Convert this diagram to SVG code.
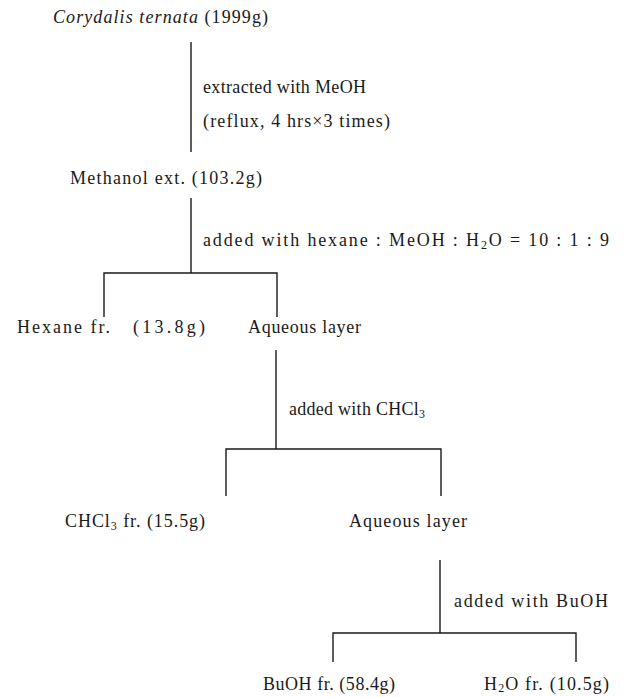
<svg xmlns="http://www.w3.org/2000/svg" width="626" height="697" viewBox="0 0 626 697">
<style>
text{font-family:"Liberation Serif","Times New Roman",serif;font-size:18px;fill:#1a1a1a}
.it{font-style:italic}
.sub{font-size:12px}
.ln{stroke:#1a1a1a;stroke-width:1.4;fill:none}
</style>
<rect width="626" height="697" fill="#fff"/>
<g id="n_start"><text x="53" y="23" textLength="215" lengthAdjust="spacing"><tspan class="it">Corydalis ternata</tspan> (1999g)</text></g>
<g id="e1_label"><text x="203" y="93" textLength="163" lengthAdjust="spacing">extracted with MeOH</text>
<text x="203" y="127" textLength="187" lengthAdjust="spacing">(reflux, 4 hrs×3 times)</text></g>
<g id="n_meoh"><text x="70" y="184" textLength="192" lengthAdjust="spacing">Methanol ext. (103.2g)</text></g>
<g id="e2_label"><text x="203" y="246" textLength="406" lengthAdjust="spacing">added with hexane : MeOH : H<tspan class="sub" dy="3">2</tspan><tspan dy="-3">O = 10 : 1 : 9</tspan></text></g>
<g id="n_hexane"><text x="17" y="333" textLength="93" lengthAdjust="spacing">Hexane fr.</text><text x="133" y="333" textLength="72" lengthAdjust="spacing">(13.8g)</text></g>
<g id="n_aq1"><text x="248" y="333" textLength="113" lengthAdjust="spacing">Aqueous layer</text></g>
<g id="e3_label"><text x="289" y="415" textLength="136" lengthAdjust="spacing">added with CHCl<tspan class="sub" dy="3">3</tspan></text></g>
<g id="n_chcl3"><text x="65" y="527" textLength="140" lengthAdjust="spacing">CHCl<tspan class="sub" dy="3">3</tspan><tspan dy="-3"> fr. (15.5g)</tspan></text></g>
<g id="n_aq2"><text x="349" y="527" textLength="118" lengthAdjust="spacing">Aqueous layer</text></g>
<g id="e4_label"><text x="454" y="607" textLength="154" lengthAdjust="spacing">added with BuOH</text></g>
<g id="n_buoh"><text x="263" y="690" textLength="132" lengthAdjust="spacing">BuOH fr. (58.4g)</text></g>
<g id="n_h2o"><text x="484" y="690" textLength="125" lengthAdjust="spacing">H<tspan class="sub" dy="2">2</tspan><tspan dy="-2">O fr. (10.5g)</tspan></text></g>
<g id="connectors">
<path class="ln" d="M191 42V152"/>
<path class="ln" d="M191 198V273"/>
<path class="ln" d="M104 317V273H277V317"/>
<path class="ln" d="M276 350V449"/>
<path class="ln" d="M226 496V449H441V496"/>
<path class="ln" d="M440 560V633"/>
<path class="ln" d="M333 662V633H576V662"/>
</g>
</svg>
